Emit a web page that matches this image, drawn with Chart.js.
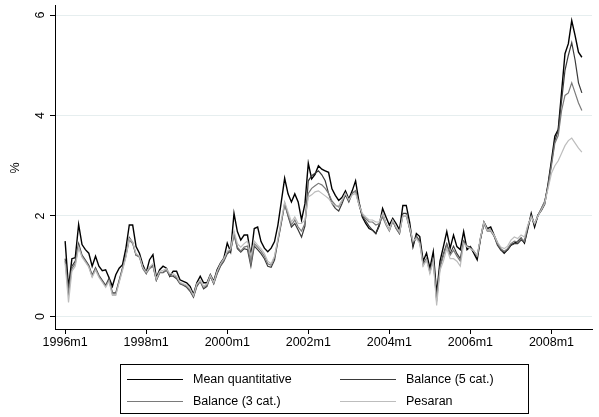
<!DOCTYPE html>
<html>
<head>
<meta charset="utf-8">
<script src="https://cdn.jsdelivr.net/npm/chart.js@4"></script>
<style>
  body { margin:0; background:#fff; font-family:"Liberation Sans", Arial, sans-serif; }
  .wrap { position:relative; width:599px; height:417px; }
  .legend { position:absolute; left:120px; top:364px; width:409px; height:50px; border:1px solid #000; box-sizing:border-box; font-size:12.5px; color:#000; }
  .item { position:absolute; height:16px; line-height:16px; }
  .item i { position:absolute; left:0; top:8px; width:56px; border-top:1.5px solid #000; }
  .item span { position:absolute; left:66px; white-space:nowrap; }
</style>
</head>
<body>
<div class="wrap">
  <canvas id="c" width="599" height="417"></canvas>
  <div class="legend" id="legend"></div>
</div>
<script>
// months since 1996m1
const startYear = 1996;
const xTicks = [0, 24, 48, 72, 96, 120, 144];
const yTicks = [0, 2, 4, 6];

const meanQuant = [
  1.50,0.57,1.15,1.17,1.83,1.43,1.33,1.26,1.00,1.20,1.00,0.91,0.93,0.77,0.60,0.83,0.96,1.03,1.36,1.82,1.82,1.39,1.26,1.03,0.87,1.13,1.23,
  0.77,0.93,1.00,0.96,0.80,0.90,0.90,0.73,0.70,0.67,0.60,0.44,0.67,0.80,0.67,0.67,0.83,0.70,0.93,1.06,1.16,1.46,1.29,2.05,1.69,1.52,1.62,1.62,1.20,
  1.75,1.78,1.49,1.36,1.29,1.36,1.49,1.82,2.28,2.75,2.44,2.28,2.44,2.28,1.92,2.24,3.05,2.74,2.83,3.00,2.93,2.90,2.87,2.54,2.41,2.31,2.37,2.50,
  2.34,2.50,2.70,2.28,1.98,1.85,1.75,1.72,1.65,1.82,2.15,1.98,1.82,1.95,1.85,1.72,2.21,2.21,1.88,1.39,1.65,1.59,1.10,1.26,0.96,1.29,0.45,1.10,
  1.39,1.69,1.36,1.62,1.39,1.33,1.69,1.33,1.39,1.26,1.13,1.56,1.88,1.75,1.78,1.62,1.46,1.33,1.26,1.33,1.42,1.46,1.49,1.56,1.46,1.75,2.05,1.78,
  2.02,2.11,2.24,2.64,3.10,3.59,3.72,4.47,5.23,5.43,5.89,5.59,5.26,5.16
];
const balance5 = [
  1.15,0.55,1.00,1.10,1.45,1.22,1.12,1.02,0.82,0.97,0.82,0.72,0.62,0.76,0.47,0.47,0.72,0.97,1.22,1.57,1.47,1.22,1.20,0.97,0.87,0.97,1.02,
  0.72,0.87,0.87,0.92,0.80,0.80,0.75,0.65,0.62,0.58,0.50,0.38,0.60,0.70,0.55,0.60,0.80,0.65,0.85,1.00,1.10,1.25,1.30,1.65,1.35,1.28,1.35,1.33,1.00,
  1.40,1.33,1.25,1.15,1.00,0.98,1.12,1.50,1.85,2.25,2.00,1.78,1.85,1.72,1.58,1.80,2.70,2.80,2.85,2.90,2.82,2.70,2.45,2.25,2.15,2.10,2.25,2.42,
  2.28,2.45,2.50,2.22,2.00,1.90,1.80,1.72,1.65,1.80,2.05,1.85,1.72,1.90,1.75,1.65,2.05,2.05,1.75,1.42,1.60,1.50,1.05,1.15,0.90,1.15,0.35,1.00,
  1.25,1.45,1.25,1.40,1.25,1.15,1.50,1.40,1.38,1.30,1.20,1.55,1.85,1.72,1.72,1.60,1.42,1.32,1.28,1.32,1.42,1.45,1.45,1.52,1.48,1.78,2.00,1.82,
  2.00,2.15,2.28,2.60,3.05,3.50,3.70,4.30,4.90,5.20,5.45,5.10,4.65,4.45
];
const balance3 = [
  1.10,0.45,0.95,1.05,1.40,1.20,1.10,1.00,0.80,0.95,0.80,0.70,0.60,0.72,0.45,0.45,0.70,0.95,1.20,1.52,1.45,1.22,1.18,0.95,0.85,0.95,1.00,
  0.72,0.88,0.88,0.93,0.82,0.82,0.78,0.66,0.63,0.60,0.52,0.40,0.62,0.70,0.58,0.62,0.80,0.66,0.88,1.02,1.12,1.28,1.32,1.62,1.38,1.30,1.38,1.40,1.05,
  1.45,1.38,1.30,1.20,1.05,1.02,1.18,1.52,1.88,2.22,2.02,1.82,1.92,1.78,1.70,1.85,2.45,2.55,2.60,2.65,2.62,2.55,2.45,2.30,2.22,2.18,2.30,2.45,
  2.30,2.45,2.50,2.25,2.02,1.95,1.88,1.88,1.82,1.85,1.98,1.82,1.70,1.90,1.75,1.65,2.00,2.00,1.75,1.48,1.58,1.48,1.02,1.15,0.88,1.12,0.30,0.98,
  1.20,1.42,1.22,1.32,1.20,1.10,1.48,1.40,1.35,1.30,1.20,1.55,1.85,1.70,1.70,1.60,1.45,1.35,1.30,1.35,1.45,1.50,1.48,1.55,1.50,1.80,2.00,1.85,
  2.02,2.15,2.30,2.60,3.00,3.45,3.60,4.10,4.40,4.45,4.65,4.45,4.25,4.10
];
const pesaran = [
  1.05,0.28,0.90,1.00,1.38,1.18,1.08,0.98,0.78,0.92,0.78,0.68,0.58,0.70,0.42,0.42,0.68,0.92,1.18,1.55,1.48,1.25,1.20,0.98,0.88,0.98,1.05,
  0.75,0.90,0.92,0.95,0.85,0.85,0.80,0.68,0.65,0.62,0.55,0.42,0.65,0.72,0.60,0.65,0.82,0.68,0.90,1.05,1.15,1.30,1.35,1.70,1.45,1.38,1.45,1.50,1.20,
  1.50,1.42,1.35,1.25,1.10,1.05,1.20,1.55,1.92,2.28,2.08,1.88,1.98,1.85,1.85,1.92,2.38,2.42,2.48,2.50,2.45,2.40,2.35,2.25,2.20,2.20,2.32,2.45,
  2.32,2.42,2.45,2.22,2.05,1.98,1.92,1.92,1.88,1.88,2.05,1.85,1.72,1.92,1.78,1.68,2.00,2.02,1.78,1.50,1.55,1.45,1.00,1.12,0.85,1.10,0.22,0.92,
  1.10,1.35,1.15,1.15,1.10,1.00,1.45,1.38,1.35,1.30,1.22,1.58,1.88,1.72,1.72,1.62,1.48,1.38,1.35,1.40,1.52,1.58,1.55,1.62,1.58,1.82,1.98,1.85,
  2.00,2.12,2.25,2.55,2.85,3.00,3.10,3.25,3.40,3.50,3.55,3.45,3.35,3.27
];

const series = [
  { label:'Mean quantitative', data:meanQuant, color:'#000000', w:1.4 },
  { label:'Balance (5 cat.)', data:balance5, color:'#3a3a3a', w:1.2 },
  { label:'Balance (3 cat.)', data:balance3, color:'#7a7a7a', w:1.2 },
  { label:'Pesaran', data:pesaran, color:'#bdbdbd', w:1.2 },
];

// draw order: lightest first so black sits on top
const datasets = series.slice().reverse().map(s => ({
  label: s.label,
  data: s.data.map((v, i) => ({ x: i, y: v })),
  borderColor: s.color, borderWidth: s.w, pointRadius: 0, tension: 0, fill: false,
}));

const yLabels = {
  id: 'yLabels',
  afterDraw(chart) {
    const { ctx, scales: { y } } = chart;
    ctx.save();
    ctx.fillStyle = '#000';
    ctx.font = '12.5px "Liberation Sans", Arial, sans-serif';
    ctx.textAlign = 'center';
    ctx.textBaseline = 'bottom';
    yTicks.forEach(v => {
      ctx.save();
      ctx.translate(47, y.getPixelForValue(v));
      ctx.rotate(-Math.PI / 2);
      ctx.fillText(String(v), 0, 0);
      ctx.restore();
    });
    ctx.translate(22, 168);
    ctx.rotate(-Math.PI / 2);
    ctx.fillText('%', 0, 0);
    ctx.restore();
  }
};

new Chart(document.getElementById('c'), {
  type: 'line',
  data: { datasets },
  plugins: [yLabels],
  options: {
    responsive: false, animation: false,
    layout: { padding: { left: 0, right: 7, top: 5, bottom: 0 } },
    plugins: { legend: { display: false }, tooltip: { enabled: false } },
    scales: {
      x: {
        type: 'linear', min: -3, max: 156,
        afterBuildTicks: s => { s.ticks = xTicks.map(v => ({ value: v })); },
        afterFit: s => { s.height = 88; },
        ticks: { color:'#000', font:{ size:12.5, family:'"Liberation Sans", Arial, sans-serif' }, maxRotation:0, padding:1,
                 callback: v => (startYear + v / 12) + 'm1' },
        grid: { drawOnChartArea:false, tickLength:5, tickColor:'#000' },
        border: { color:'#000', width:1 },
      },
      y: {
        min: -0.25, max: 6.2,
        afterBuildTicks: s => { s.ticks = yTicks.map(v => ({ value: v })); },
        afterFit: s => { s.width = 55; },
        ticks: { display:false },
        grid: { color:'#e6eeef', tickLength:5, tickColor:'#000' },
        border: { color:'#000', width:1 },
      }
    }
  }
});

// legend: two columns, row-major
const legendEl = document.getElementById('legend');
const pos = [[6, 6], [219, 6], [6, 28], [219, 28]];
series.forEach((s, i) => {
  legendEl.insertAdjacentHTML('beforeend',
    `<div class="item" style="left:${pos[i][0]}px;top:${pos[i][1]}px"><i style="border-color:${s.color}"></i><span>${s.label}</span></div>`);
});
</script>
</body>
</html>
